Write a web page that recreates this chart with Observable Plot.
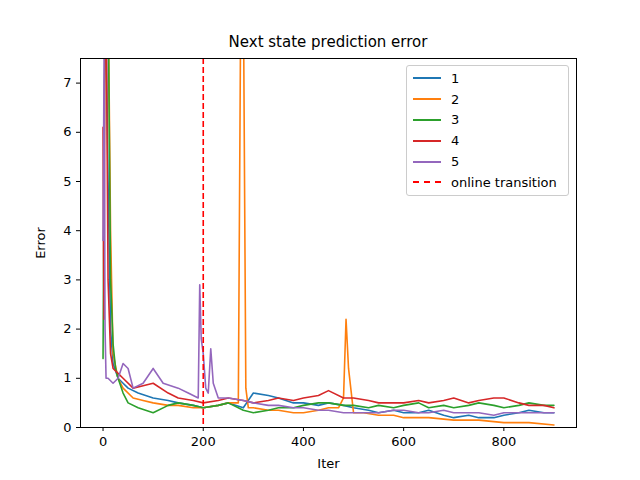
<!DOCTYPE html>
<html><head><meta charset="utf-8">
<script src="https://cdn.jsdelivr.net/npm/d3@7"></script>
<script src="https://cdn.jsdelivr.net/npm/@observablehq/plot@0.6"></script>
<style>
body{margin:0;background:#fff;font-family:"DejaVu Sans",sans-serif}
#wrap{position:relative;width:640px;height:480px}
#title{position:absolute;top:33px;left:80px;width:496px;text-align:center;font-size:15px}
#legend{position:absolute;left:406px;top:65px;width:161px;border:1px solid #ccc;border-radius:3px;background:#fff;font-size:13px;padding:2px 0}
.row{display:flex;align-items:center;height:20.8px;padding-left:6px}
.sw{width:28px;margin-right:10px;border-top:2px solid}
</style></head>
<body><div id="wrap"><div id="chart"></div><div id="title">Next state prediction error</div><div id="legend"></div></div>
<script>
var seriesNames = ["1", "2", "3", "4", "5"];
var colors = ["#1f77b4", "#ff7f0e", "#2ca02c", "#d62728", "#9467bd"];
var x1 = [0,5,10,15,20,30,40,50,70,100,130,150,180,200,230,250,280,300,330,350,380,400,430,450,480,500,530,550,580,600,630,650,680,700,730,750,780,800,830,850,880,900];
var y1 = [9,9,5,2,1.3,1.0,0.9,0.8,0.7,0.6,0.55,0.5,0.45,0.4,0.45,0.5,0.4,0.7,0.65,0.6,0.5,0.5,0.45,0.5,0.45,0.4,0.35,0.3,0.35,0.3,0.3,0.35,0.25,0.2,0.25,0.2,0.2,0.25,0.3,0.35,0.3,0.3];
var x2 = [0,5,10,15,20,30,40,60,80,100,130,150,180,200,230,250,270,275,280,285,290,300,330,350,380,400,430,450,470,480,485,490,500,520,550,580,600,650,700,750,800,850,900];
var y2 = [9,9,9,4,1.5,1.0,0.8,0.6,0.55,0.5,0.45,0.45,0.4,0.4,0.45,0.5,0.5,9,9,0.8,0.4,0.4,0.35,0.35,0.3,0.3,0.35,0.4,0.4,0.6,2.2,1.2,0.3,0.3,0.25,0.25,0.2,0.2,0.15,0.15,0.1,0.1,0.05];
var x3 = [0,3,6,10,15,20,25,30,40,50,70,100,130,150,180,200,230,250,280,300,330,350,380,400,430,450,480,500,530,550,580,600,630,650,680,700,730,750,780,800,830,850,880,900];
var y3 = [1.4,7,9,9,3,1.7,1.2,1.0,0.7,0.5,0.4,0.3,0.45,0.5,0.45,0.4,0.45,0.5,0.35,0.3,0.35,0.4,0.4,0.45,0.5,0.5,0.45,0.45,0.4,0.45,0.4,0.45,0.5,0.4,0.45,0.4,0.45,0.5,0.45,0.4,0.45,0.5,0.45,0.45];
var x4 = [0,1,2,4,6,10,15,20,30,40,60,80,100,130,150,180,200,230,250,280,300,330,350,380,400,430,450,480,500,530,550,580,600,630,650,680,700,730,750,780,800,830,850,880,900];
var y4 = [6.1,3.5,2.2,9,9,3,1.5,1.2,1.1,1.0,0.8,0.85,0.9,0.7,0.6,0.55,0.5,0.55,0.6,0.55,0.5,0.55,0.6,0.55,0.6,0.65,0.75,0.6,0.6,0.55,0.5,0.5,0.5,0.55,0.5,0.55,0.6,0.5,0.55,0.6,0.6,0.5,0.45,0.45,0.4];
var x5 = [0,2,4,6,10,20,30,40,50,60,80,100,120,150,170,190,193,196,200,205,210,215,220,230,250,280,300,330,350,380,400,430,450,480,500,530,550,580,600,630,650,680,700,730,750,780,800,830,850,880,900];
var y5 = [3.8,7.5,2,1.0,1.0,0.9,1.0,1.3,1.2,0.8,0.9,1.2,0.9,0.8,0.7,0.6,2.9,1.8,1.5,0.8,0.7,1.6,0.9,0.6,0.6,0.55,0.5,0.45,0.45,0.4,0.4,0.35,0.35,0.3,0.3,0.3,0.3,0.35,0.35,0.3,0.3,0.35,0.3,0.3,0.3,0.25,0.3,0.3,0.3,0.3,0.3];

var xs = [x1, x2, x3, x4, x5];
var ys = [y1, y2, y3, y4, y5];
var rows = [];
xs.forEach(function(xa, i) {
  xa.forEach(function(x, j) { rows.push({iter: x, err: ys[i][j], s: seriesNames[i]}); });
});

var plot = Plot.plot({
  width: 640, height: 480,
  marginTop: 58, marginBottom: 53, marginLeft: 80, marginRight: 64,
  style: {fontFamily: "DejaVu Sans", fontSize: "13px", color: "#000"},
  x: {domain: [-45, 945], ticks: [0, 200, 400, 600, 800], tickSize: 4, label: "Iter", labelAnchor: "center", labelArrow: "none", labelOffset: 40},
  y: {domain: [0, 7.5], ticks: [0,1,2,3,4,5,6,7], tickSize: 4, label: "Error", labelAnchor: "center", labelArrow: "none", labelOffset: 45},
  color: {domain: seriesNames, range: colors},
  marks: [
    Plot.line(rows, {x: "iter", y: "err", z: "s", stroke: "s", strokeWidth: 1.6, clip: true}),
    Plot.ruleX([200], {stroke: "red", strokeDasharray: "6,3", strokeWidth: 1.6}),
    Plot.frame({stroke: "#000"})
  ]
});
document.getElementById("chart").appendChild(plot);

var leg = document.getElementById("legend");
seriesNames.concat(["online transition"]).forEach(function(n, i) {
  var r = document.createElement("div"); r.className = "row";
  var sw = document.createElement("span"); sw.className = "sw";
  sw.style.borderTopColor = i < 5 ? colors[i] : "red";
  if (i === 5) sw.style.borderTopStyle = "dashed";
  r.appendChild(sw); r.appendChild(document.createTextNode(n)); leg.appendChild(r);
});
</script></body></html>
